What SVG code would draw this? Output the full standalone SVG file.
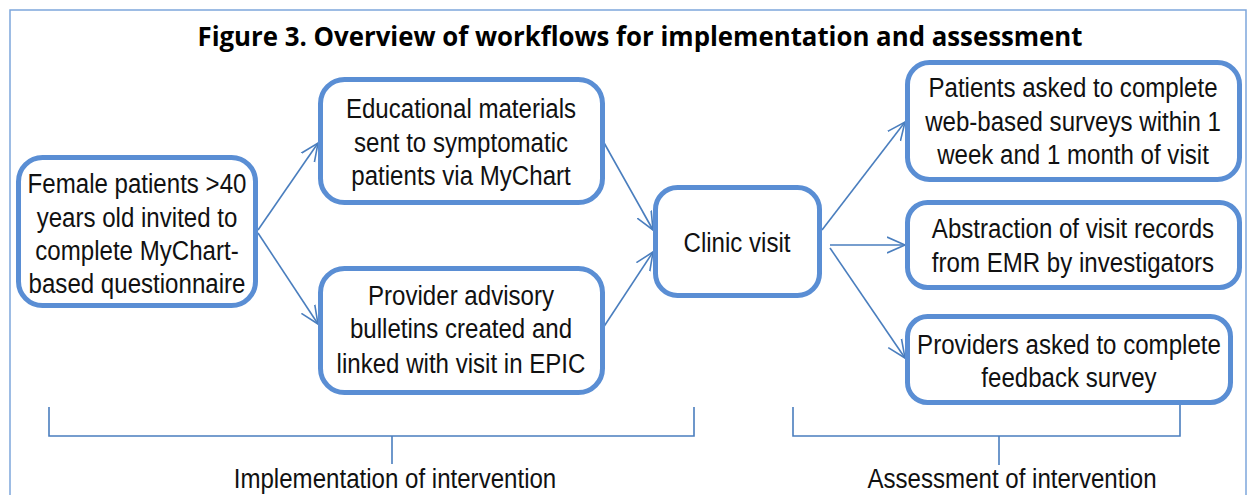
<svg xmlns="http://www.w3.org/2000/svg" width="1249" height="495" viewBox="0 0 1249 495">
<defs>
<style>
.box{fill:#fff;stroke:#5a8ed4;stroke-width:5}
.t{font-family:"Liberation Sans",Arial,sans-serif;font-size:28px;fill:#111;text-anchor:middle}
.c{fill:none;stroke:#4a7ebe;stroke-width:1.6}
.br{fill:none;stroke:#4a7ebe;stroke-width:1.6}
</style>
<marker id="ah" markerUnits="userSpaceOnUse" markerWidth="24" markerHeight="24" refX="18" refY="9" orient="auto" viewBox="0 0 24 18">
<path d="M0,1 L18,9 L0,17" fill="none" stroke="#4a7ebe" stroke-width="1.6"/>
</marker>
</defs>
<rect x="0" y="0" width="1249" height="495" fill="#fff"/>
<path d="M10,500 V10 H1246 V500" fill="none" stroke="#7ea6dc" stroke-width="1.5"/>
<text x="640" y="46" text-anchor="middle" font-family="'Open Sans','Liberation Sans',sans-serif" font-weight="bold" font-size="26" fill="#000" textLength="885" lengthAdjust="spacingAndGlyphs">Figure 3. Overview of workflows for implementation and assessment</text>
<g id="connectors">
<line class="c" x1="258" y1="230" x2="318" y2="143" marker-end="url(#ah)"/>
<line class="c" x1="258" y1="233" x2="318" y2="324" marker-end="url(#ah)"/>
<line class="c" x1="603" y1="141" x2="653" y2="230" marker-end="url(#ah)"/>
<line class="c" x1="603" y1="328" x2="653" y2="252" marker-end="url(#ah)"/>
<line class="c" x1="822" y1="230" x2="905" y2="122" marker-end="url(#ah)"/>
<line class="c" x1="830" y1="245" x2="905" y2="245" marker-end="url(#ah)"/>
<line class="c" x1="830" y1="248" x2="905" y2="358" marker-end="url(#ah)"/>
</g>
<g id="n_female">
<rect class="box" x="18.5" y="157.5" width="237" height="148" rx="24"/>
<text class="t" transform="matrix(0.86 0 0 1 137 0)" y="193">Female patients &gt;40</text>
<text class="t" transform="matrix(0.86 0 0 1 137 0)" y="227">years old invited to</text>
<text class="t" transform="matrix(0.86 0 0 1 137 0)" y="260">complete MyChart-</text>
<text class="t" transform="matrix(0.86 0 0 1 137 0)" y="293">based questionnaire</text>
</g>
<g id="n_edu">
<rect class="box" x="320.5" y="79.5" width="282" height="123" rx="24"/>
<text class="t" transform="matrix(0.86 0 0 1 461 0)" y="118">Educational materials</text>
<text class="t" transform="matrix(0.86 0 0 1 461 0)" y="152">sent to symptomatic</text>
<text class="t" transform="matrix(0.86 0 0 1 461 0)" y="185">patients via MyChart</text>
</g>
<g id="n_provider">
<rect class="box" x="320.5" y="268.5" width="282" height="124" rx="24"/>
<text class="t" transform="matrix(0.86 0 0 1 461 0)" y="305">Provider advisory</text>
<text class="t" transform="matrix(0.86 0 0 1 461 0)" y="338">bulletins created and</text>
<text class="t" transform="matrix(0.86 0 0 1 461 0)" y="373">linked with visit in EPIC</text>
</g>
<g id="n_clinic">
<rect class="box" x="655.5" y="187.5" width="164" height="108" rx="22"/>
<text class="t" transform="matrix(0.86 0 0 1 737 0)" y="252">Clinic visit</text>
</g>
<g id="n_patients">
<rect class="box" x="907.5" y="62.5" width="332" height="117" rx="22"/>
<text class="t" transform="matrix(0.86 0 0 1 1073 0)" y="97">Patients asked to complete</text>
<text class="t" transform="matrix(0.86 0 0 1 1073 0)" y="131">web-based surveys within 1</text>
<text class="t" transform="matrix(0.86 0 0 1 1073 0)" y="164">week and 1 month of visit</text>
</g>
<g id="n_abstraction">
<rect class="box" x="907.5" y="202.5" width="332" height="85" rx="20"/>
<text class="t" transform="matrix(0.86 0 0 1 1073 0)" y="238">Abstraction of visit records</text>
<text class="t" transform="matrix(0.86 0 0 1 1073 0)" y="272">from EMR by investigators</text>
</g>
<g id="n_providers">
<rect class="box" x="907.5" y="316.5" width="323" height="86" rx="20"/>
<text class="t" transform="matrix(0.86 0 0 1 1069 0)" y="354">Providers asked to complete</text>
<text class="t" transform="matrix(0.86 0 0 1 1069 0)" y="387">feedback survey</text>
</g>
<g id="brackets">
<path class="br" d="M49,407 V436 H694 V407"/>
<line class="br" x1="392" y1="436" x2="392" y2="464"/>
<path class="br" d="M793,407 V436 H1180 V405"/>
<line class="br" x1="999" y1="436" x2="999" y2="465"/>
<text class="t" transform="matrix(0.86 0 0 1 395 0)" y="488">Implementation of intervention</text>
<text class="t" transform="matrix(0.86 0 0 1 1012 0)" y="488">Assessment of intervention</text>
</g>
</svg>
